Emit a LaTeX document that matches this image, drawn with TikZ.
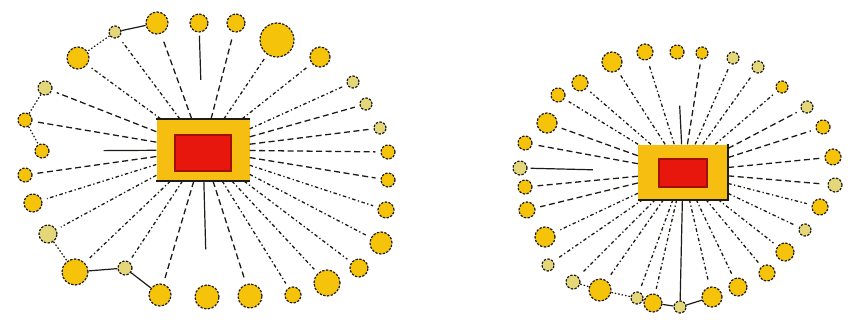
\documentclass[tikz,border=0pt]{standalone}
\definecolor{ink}{HTML}{1E1A14}
\definecolor{beadgold}{HTML}{F5C30A}
\definecolor{beadpale}{HTML}{E3D77A}
\definecolor{hubgold}{HTML}{F7BE12}
\definecolor{core}{HTML}{E8170E}
\definecolor{coreedge}{HTML}{A0100A}
\tikzset{
  bead/.style={circle,fill=beadgold,draw=ink,line width=1.2pt,dash pattern=on 2.4pt off 1.4pt,inner sep=0pt},
  beadB/.style={bead},
  beadP/.style={bead,fill=beadpale},
  hub/.style={fill=hubgold,inner sep=0pt},
  corebox/.style={fill=core,draw=coreedge,line width=1.4pt,inner sep=0pt},
  spokeA/.style={draw=ink,line width=1.3pt,dash pattern=on 6pt off 3.5pt,shorten >=5pt},
  spokeB/.style={draw=ink,line width=1.3pt,dash pattern=on 3.5pt off 2.5pt on 1.3pt off 2.5pt,shorten >=5pt},
  spokeS/.style={draw=none},
  link/.style={draw=ink,line width=1.2pt},
  dotlink/.style={link,dash pattern=on 1.5pt off 2pt},
  edge/.style={draw=ink,line width=1.6pt}}
\begin{document}
\begin{tikzpicture}[x=1pt,y=-1pt]
\useasboundingbox (0,0) rectangle (853,329);

% left cluster
\node[hub,minimum width=93pt,minimum height=62pt] (hubL) at (203,150) {};
\node[corebox,minimum width=56pt,minimum height=36pt] (coreL) at (203,153) {};
\draw[edge] (hubL.north west)--(hubL.north east) (hubL.south west)--(hubL.south east);
\foreach \n/\x/\y/\r/\s/\f in {1/157/23/11/A/B,2/199/23/9/S/B,3/236/23/9/A/B,4/277/40/17/B/B,
  5/320/57/10/B/B,6/353/82/6/B/P,7/366/104/6/A/P,8/380/128/6/A/P,9/388/152/7/A/B,10/388/180/7/A/B,
  11/386/210/8/B/B,12/381/243/11/B/B,13/359/268/9/B/B,14/327/283/13/B/B,15/293/295/8/B/B,
  16/250/296/12/A/B,17/207/297/12/S/B,18/160/295/11/A/B,19/125/268/7/B/P,20/75/272/13/B/B,
  21/48/234/9/B/P,22/33/203/9/B/B,23/25/175/7/A/B,24/42/151/7/S/B,25/25/120/7/A/B,
  26/45/88/7/A/P,27/78/58/11/B/B,28/115/32/6/B/P}{
  \node[bead\f,minimum size=\r*2pt] (L\n) at (\x,\y) {};
  \draw[spoke\s] (hubL) -- (L\n);
}
\draw[link,shorten <=39pt,shorten >=3pt] (hubL) -- (L2);
\draw[link,shorten >=35pt] (hubL) -- (L17);
\draw[link,shorten >=54pt] (hubL) -- (L24);
\draw[link] (L28) -- (L1);\draw[link] (L20) -- (L19);\draw[link] (L19) -- (L18);
\draw[dotlink] (L28) -- (L27);\draw[dotlink] (L26) -- (L25);\draw[dotlink] (L25) -- (L24);
\draw[dotlink] (L21) -- (L20);

% right cluster
\node[hub,minimum width=90pt,minimum height=55pt] (hubR) at (683,172) {};
\node[corebox,minimum width=48pt,minimum height=28pt] (coreR) at (683,173) {};
\draw[edge] (hubR.north east)--(hubR.south east)--(hubR.south west);
\foreach \n/\x/\y/\r/\s/\f in {1/612/62/10/B/B,2/645/52/8/B/B,3/677/52/7/S/B,4/702/53/6/A/B,
  5/733/58/6/B/P,6/758/67/6/B/P,7/782/87/6/B/B,8/807/107/6/A/P,9/823/127/7/A/B,10/833/157/8/A/B,
  11/835/185/7/A/P,12/820/207/8/B/B,13/805/230/6/B/P,14/785/252/9/B/B,15/767/273/8/B/B,
  16/738/287/9/B/B,17/712/297/10/B/B,18/680/307/6/S/P,19/653/303/9/B/B,20/637/298/6/B/P,
  21/600/290/11/B/B,22/573/282/7/B/P,23/548/265/6/B/P,24/545/237/10/B/B,25/527/210/8/A/B,
  26/525/187/7/A/B,27/520/168/7/S/P,28/525/143/7/A/B,29/547/123/10/A/B,30/558/95/7/B/B,
  31/580/83/8/B/B}{
  \node[bead\f,minimum size=\r*2pt] (R\n) at (\x,\y) {};
  \draw[spoke\s] (hubR) -- (R\n);
}
\draw[link,shorten <=45pt,shorten >=3pt] (hubR) -- (R27);
\draw[link,shorten >=46pt] (hubR) -- (R3);
\draw[link] (hubR) -- (R18);
\draw[link] (R20) -- (R19);\draw[link] (R19) -- (R18);\draw[link] (R18) -- (R17);
\draw[dotlink] (R22) -- (R21);\draw[dotlink] (R21) -- (R20);
\end{tikzpicture}
\end{document}
